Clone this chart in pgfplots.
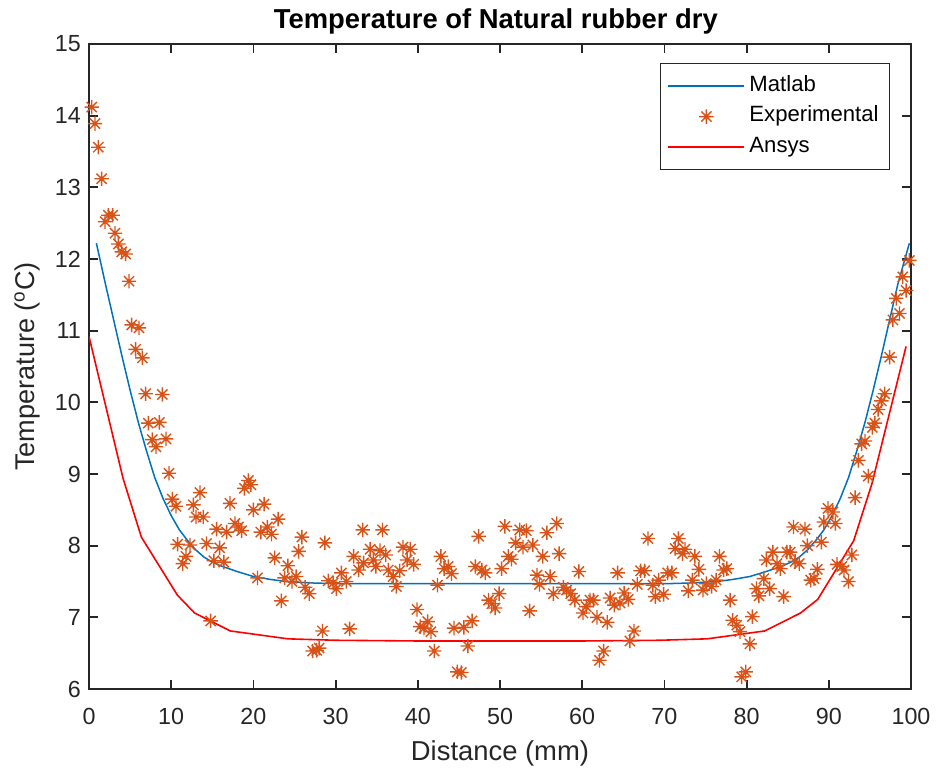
\documentclass[border=0pt]{standalone}
\usepackage{fontspec}
\setmainfont{Liberation Sans}
\usepackage{pgfplots}
\pgfplotsset{compat=1.18}
\definecolor{mblue}{rgb}{0,0.447,0.741}
\definecolor{morange}{rgb}{0.85,0.325,0.098}
\definecolor{mred}{rgb}{1,0,0}
\definecolor{axgray}{rgb}{0.15,0.15,0.15}
\pgfdeclareplotmark{mast}{%
 \pgfpathmoveto{\pgfqpoint{-\pgfplotmarksize}{0pt}}\pgfpathlineto{\pgfqpoint{\pgfplotmarksize}{0pt}}%
 \pgfpathmoveto{\pgfqpoint{0pt}{-\pgfplotmarksize}}\pgfpathlineto{\pgfqpoint{0pt}{\pgfplotmarksize}}%
 \pgfpathmoveto{\pgfqpoint{-0.7071\pgfplotmarksize}{-0.7071\pgfplotmarksize}}\pgfpathlineto{\pgfqpoint{0.7071\pgfplotmarksize}{0.7071\pgfplotmarksize}}%
 \pgfpathmoveto{\pgfqpoint{-0.7071\pgfplotmarksize}{0.7071\pgfplotmarksize}}\pgfpathlineto{\pgfqpoint{0.7071\pgfplotmarksize}{-0.7071\pgfplotmarksize}}%
 \pgfusepathqstroke}
\begin{document}
\begin{tikzpicture}
\path[use as bounding box] (-44.5bp,-41.5bp) rectangle (423.5bp,344.5bp);
\begin{axis}[
 scale only axis, width=411bp, height=322.5bp,
 xmin=0, xmax=100, ymin=6, ymax=15,
 xtick={0,10,...,100}, ytick={6,7,...,15},
 tick align=inside, major tick length=4.5bp,
 axis line style={axgray, line width=0.9bp},
 every tick/.style={axgray, line width=0.9bp},
 /pgf/number format/assume math mode=true,
 ticklabel style={font=\fontsize{11.7}{13}\selectfont, text=axgray},
 xticklabel style={anchor=base, yshift=-17.5bp},
 yticklabel style={xshift=-0.6bp},
 every axis title shift=0pt,
 title={Temperature of Natural rubber dry},
 title style={at={(axis description cs:0.495,1.0233)}, anchor=base, font=\bfseries\fontsize{13.75}{15}\selectfont},
 xlabel={Distance (mm)},
 xlabel style={at={(axis description cs:0.5,-0.1101)}, anchor=base, font=\fontsize{13.75}{15}\selectfont, text=axgray},
 ylabel={Temperature (\textsuperscript{o}C)},
 ylabel style={at={(axis description cs:-0.0657,0.5)}, anchor=base, font=\fontsize{13.6}{15}\selectfont, text=axgray},
 legend style={at={(axis description cs:0.9745,0.9711)}, anchor=north east,
   font=\fontsize{11.1}{13}\selectfont, fill=white, inner xsep=3.5bp, inner ysep=3.6bp, row sep=0bp,
   nodes={inner ysep=2.4bp, text height=8bp, text depth=2.6bp}},
 every axis legend/.append style={draw=axgray, line width=0.5bp},
 legend cell align=left,
]
\addplot[draw=mblue, line width=0.75bp,
  legend image code/.code={\draw[draw=mblue, line width=0.9bp] (0bp,0bp) -- (38bp,0bp);}] coordinates {
(0.9,12.22) (2,11.65) (3,11.15) (4,10.65) (5,10.17) (6,9.72) (7,9.32) (8,8.95) (9,8.66) (10,8.42)
(11,8.22) (12,8.07) (13,7.94) (14,7.84) (15,7.77) (16,7.72) (17,7.68) (18,7.64) (20,7.57) (22,7.53)
(24,7.50) (27,7.48) (30,7.47) (50,7.47) (70.4,7.47) (73.4,7.48) (76.4,7.50) (78.4,7.53) (80.4,7.57)
(82.4,7.64) (83.4,7.68) (84.4,7.72) (85.4,7.77) (86.4,7.84) (87.4,7.94) (88.4,8.07) (89.4,8.22)
(90.4,8.42) (91.4,8.66) (92.4,8.95) (93.4,9.32) (94.4,9.72) (95.4,10.17) (96.4,10.65) (97.4,11.15)
(98.4,11.65) (99.8,12.22)
};
\addlegendentry{Matlab}
\addplot[only marks, mark=mast, mark size=3.6bp, draw=morange, line width=0.7bp,
  legend image code/.code={\draw[draw=morange, line width=0.7bp, only marks, mark=mast, mark size=3.6bp, mark repeat=2, mark phase=2] plot coordinates {(0bp,0bp) (19bp,0bp) (38bp,0bp)};}] table {
x y
0.33 14.12
0.73 13.89
1.13 13.56
1.54 13.12
1.95 12.52
2.35 12.61
2.88 12.61
3.16 12.36
3.57 12.21
3.98 12.10
4.46 12.07
4.87 11.69
5.19 11.08
5.68 10.74
6.08 11.04
6.49 10.62
6.89 10.12
7.22 9.71
7.70 9.48
8.15 9.38
8.56 9.72
8.92 10.11
9.37 9.49
9.73 9.01
10.13 8.65
10.58 8.55
10.79 8.02
11.4 7.75
11.8 7.85
12.29 8.01
12.69 8.57
13.02 8.40
13.5 8.74
13.9 8.40
14.3 8.03
14.8 6.95
15.2 7.79
15.53 8.23
15.9 7.97
16.4 7.77
16.75 8.19
17.15 8.59
17.76 8.31
18.17 8.26
18.57 8.21
18.9 8.80
19.38 8.91
19.7 8.85
20.0 8.50
20.5 7.55
20.9 8.19
21.3 8.58
21.7 8.26
22.2 8.16
22.6 7.83
23.0 8.37
23.4 7.23
23.8 7.55
24.2 7.72
24.7 7.50
25.2 7.57
25.5 7.92
25.9 8.12
26.3 7.42
26.8 7.33
27.2 6.53
27.7 6.54
28.0 6.57
28.4 6.81
28.7 8.04
29.1 7.51
29.7 7.48
30.1 7.40
30.7 7.62
31.3 7.50
31.7 6.84
32.2 7.85
32.8 7.66
33.3 8.22
33.4 7.76
34.2 7.95
34.6 7.80
34.9 7.71
35.4 7.93
35.7 8.22
36.1 7.87
36.4 7.66
37.0 7.57
37.4 7.43
37.8 7.65
38.2 7.98
38.7 7.80
39.1 7.95
39.5 7.74
39.9 7.11
40.3 6.87
40.75 6.85
41.2 6.94
41.6 6.80
42.0 6.53
42.4 7.45
42.8 7.85
43.2 7.68
43.7 7.71
44.1 7.61
44.4 6.85
44.8 6.24
45.3 6.23
45.6 6.86
46.1 6.60
46.6 6.95
47.0 7.71
47.4 8.13
47.8 7.66
48.2 7.62
48.6 7.24
49.0 7.19
49.4 7.13
49.9 7.33
50.2 7.68
50.6 8.27
51.0 7.85
51.4 7.81
51.9 8.04
52.4 8.22
52.8 7.98
53.2 8.21
53.6 7.09
54.0 8.01
54.5 7.59
54.8 7.46
55.2 7.85
55.7 8.18
56.1 7.57
56.5 7.33
56.9 8.31
57.2 7.89
57.7 7.42
58.1 7.38
58.6 7.33
59.1 7.24
59.6 7.64
60.1 7.06
60.5 7.15
60.95 7.24
61.35 7.24
61.8 7.00
62.1 6.40
62.6 6.53
63.05 6.93
63.4 7.27
63.9 7.17
64.3 7.62
64.6 7.20
65.1 7.34
65.6 7.25
65.8 6.67
66.3 6.81
66.7 7.46
67.1 7.65
67.6 7.65
68.0 8.10
68.6 7.45
68.9 7.29
69.3 7.52
69.9 7.32
70.4 7.62
70.9 7.62
71.3 7.96
71.7 8.10
72.2 7.89
72.5 7.95
72.9 7.37
73.4 7.52
73.7 7.85
74.2 7.67
74.7 7.38
75.1 7.47
75.75 7.43
76.3 7.52
76.7 7.85
77.2 7.66
77.6 7.68
78.0 7.24
78.3 6.96
78.8 6.89
79.2 6.80
79.4 6.17
79.9 6.24
80.4 6.63
80.7 7.01
81.2 7.40
81.5 7.30
82.1 7.54
82.4 7.80
82.8 7.40
83.2 7.91
83.7 7.75
84.1 7.68
84.5 7.29
84.9 7.91
85.3 7.91
85.7 8.26
85.9 7.78
86.4 7.75
87.1 8.23
87.4 8.00
87.8 7.52
88.2 7.54
88.6 7.67
89.1 8.05
89.4 8.33
89.9 8.52
90.5 8.47
90.8 8.31
91.0 7.74
91.6 7.71
91.85 7.66
92.4 7.50
92.8 7.87
93.2 8.67
93.6 9.19
94.0 9.42
94.4 9.46
94.8 8.97
95.3 9.65
95.6 9.71
96.0 9.90
96.4 10.02
96.8 10.12
97.4 10.63
97.8 11.15
98.2 11.45
98.6 11.24
99.0 11.75
99.4 11.56
99.8 11.98
};
\addlegendentry{Experimental}
\addplot[draw=mred, line width=0.8bp,
  legend image code/.code={\draw[draw=mred, line width=1.1bp] (0bp,0bp) -- (38bp,0bp);}] coordinates {
(0,10.92) (4.14,8.94) (6.37,8.12) (10.75,7.31) (12.85,7.06) (17.2,6.81) (24.2,6.70) (30,6.68)
(40,6.67) (60,6.67) (69.4,6.68) (75.2,6.70) (82.2,6.81) (86.55,7.06) (88.65,7.25) (93.03,8.07)
(95.26,8.87) (99.4,10.78)
};
\addlegendentry{Ansys}
\end{axis}
\end{tikzpicture}
\end{document}
